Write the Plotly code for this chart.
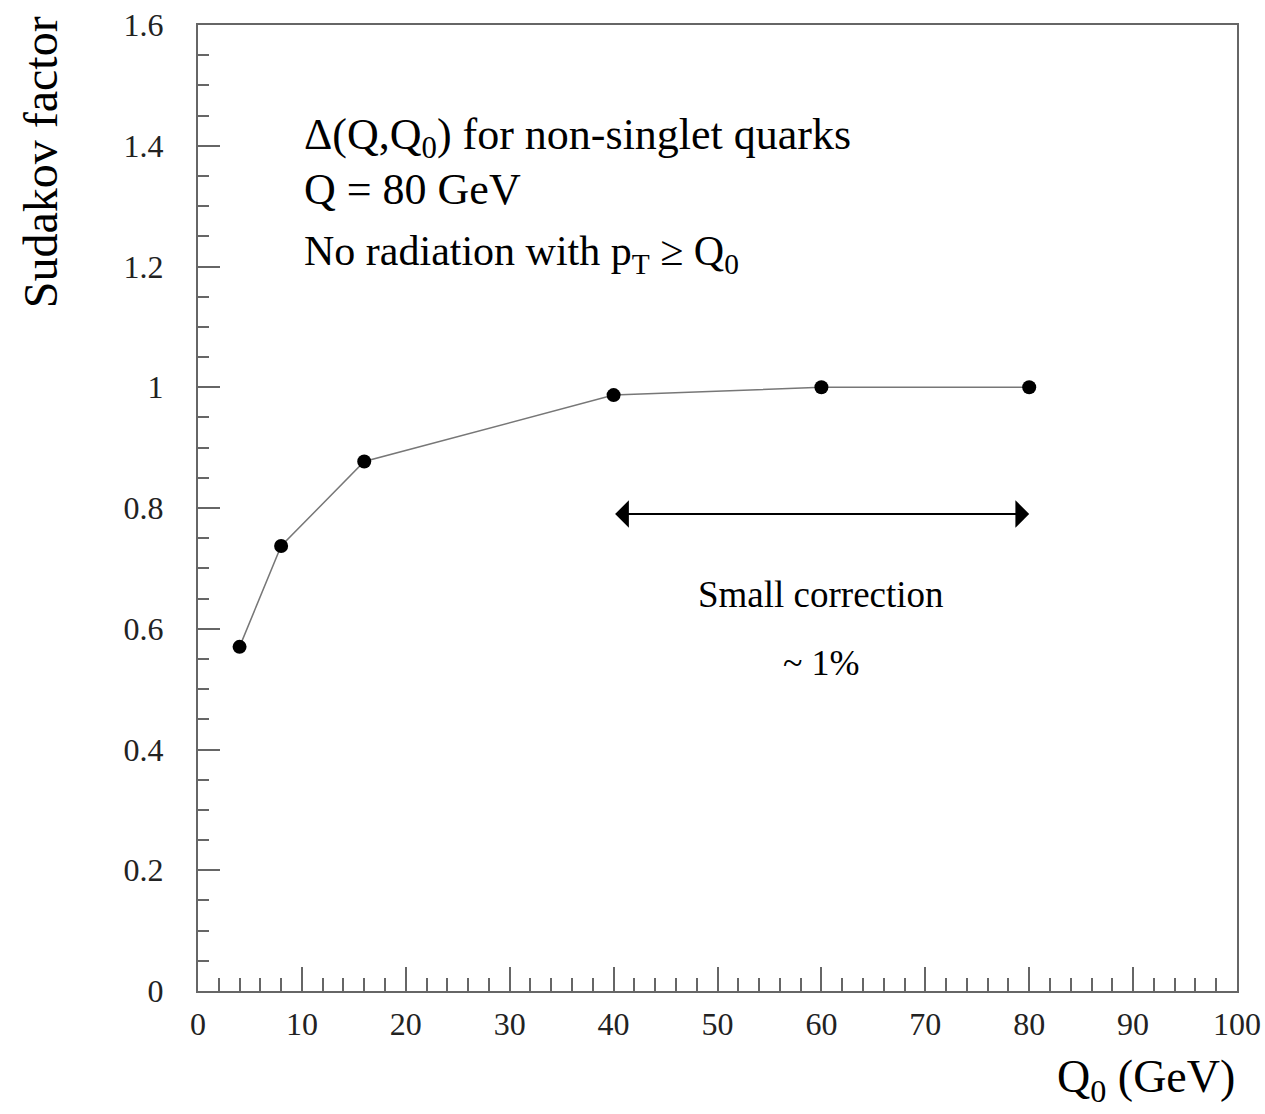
import plotly.graph_objects as go

# Data
q0_values = [4, 8, 16, 40, 60, 80]
sudakov = [0.570, 0.737, 0.877, 0.987, 1.0, 1.0]

arrow_x = [40, 80]
arrow_y = 0.79

x_ticks = [0, 10, 20, 30, 40, 50, 60, 70, 80, 90, 100]
y_ticks = [0, 0.2, 0.4, 0.6, 0.8, 1.0, 1.2, 1.4, 1.6]
y_ticktext = ["0", "0.2", "0.4", "0.6", "0.8", "1", "1.2", "1.4", "1.6"]

FONT = "Liberation Serif, Times New Roman, serif"
AX = "#666666"

fig = go.Figure()
fig.add_trace(go.Scatter(
    x=q0_values, y=sudakov, mode="lines+markers",
    line=dict(color="#777777", width=1.5),
    marker=dict(color="black", size=14),
    showlegend=False,
))

axis_common = dict(
    showgrid=False, zeroline=False, showline=True, linecolor=AX, linewidth=2,
    mirror=True, ticks="inside", tickcolor=AX, tickwidth=2,
    tickfont=dict(family=FONT, size=32, color="#222222"),
    ticklabeloverflow="allow", automargin=False,
)

fig.update_xaxes(range=[0, 100], tickvals=x_ticks, ticklen=24,
                 minor=dict(dtick=2, ticklen=13, ticks="inside", tickcolor=AX, tickwidth=2),
                 ticklabelstandoff=4,
                 **axis_common)
fig.update_yaxes(range=[0, 1.6], tickvals=y_ticks, ticktext=y_ticktext, ticklen=22,
                 minor=dict(dtick=0.05, ticklen=11, ticks="inside", tickcolor=AX, tickwidth=2),
                 ticklabelstandoff=26,
                 **axis_common)

annots = [
    dict(x=10, y=1.414, xref="x", yref="y", xanchor="left", yanchor="middle",
         text="Δ(Q,Q<sub>0</sub>) for non-singlet quarks", font=dict(size=44)),
    dict(x=10, y=1.328, xref="x", yref="y", xanchor="left", yanchor="middle",
         text="Q = 80 GeV", font=dict(size=44)),
    dict(x=10, y=1.221, xref="x", yref="y", xanchor="left", yanchor="middle",
         text="No radiation with p<sub>T</sub> ≥ Q<sub>0</sub>", font=dict(size=42)),
    dict(x=60, y=0.656, xref="x", yref="y", xanchor="center", yanchor="middle",
         text="Small correction", font=dict(size=37)),
    dict(x=60, y=0.543, xref="x", yref="y", xanchor="center", yanchor="middle",
         text="~ 1%", font=dict(size=36)),
    dict(x=-0.152, y=0.858, xref="paper", yref="paper", xanchor="center", yanchor="middle",
         text="Sudakov factor", textangle=-90, font=dict(size=48)),
    dict(x=1.0, y=-0.092, xref="paper", yref="paper", xanchor="right", yanchor="middle",
         text="Q<sub>0</sub> (GeV)", font=dict(size=46)),
]
for a in annots:
    a["showarrow"] = False
    a["font"]["family"] = FONT
    a["font"]["color"] = "black"
    fig.add_annotation(**a)

fig.add_annotation(
    x=arrow_x[1], y=arrow_y, ax=arrow_x[0], ay=arrow_y,
    xref="x", yref="y", axref="x", ayref="y",
    text="", showarrow=True, arrowhead=1, startarrowhead=1, arrowside="end+start",
    arrowwidth=2, arrowsize=2.3, startarrowsize=2.3, arrowcolor="black",
    standoff=0, startstandoff=0,
)

fig.update_layout(
    width=1265, height=1114,
    margin=dict(l=198, r=28, t=25, b=123),
    plot_bgcolor="white", paper_bgcolor="white",
    font=dict(family=FONT),
)

fig.write_html(
    "out.html",
    config={"displayModeBar": False},
    post_script="document.body.style.margin='0';document.body.style.overflow='hidden';",
)
